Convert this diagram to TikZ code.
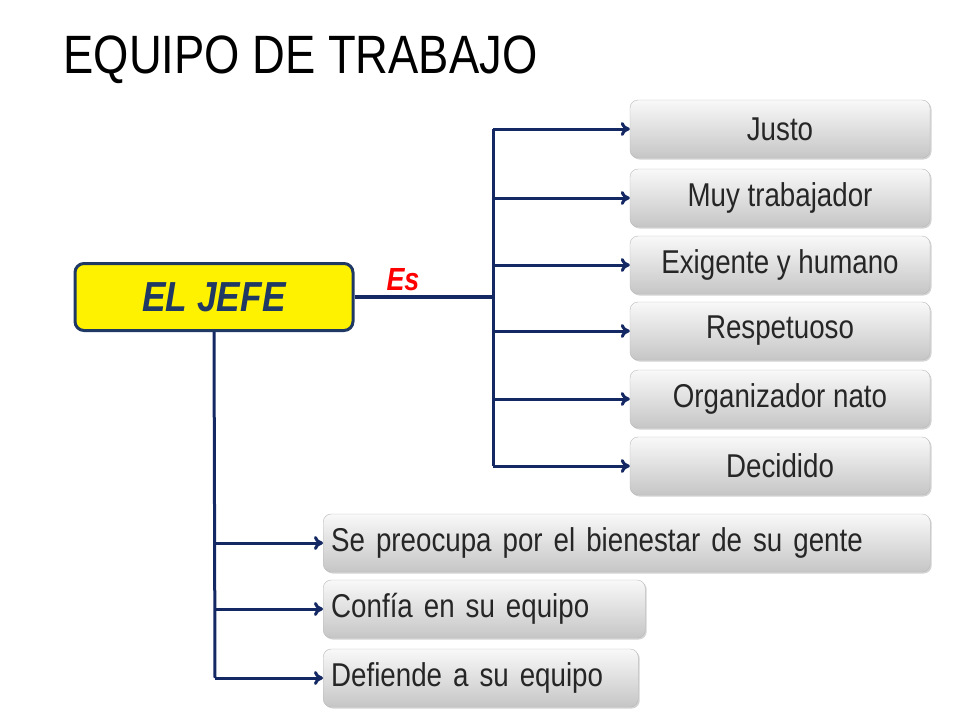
\documentclass[tikz,border=0pt]{standalone}
\usepackage{fontspec}
\setmainfont[FakeStretch=0.84]{Liberation Sans}
\usepackage{tikz}
\usetikzlibrary{arrows.meta}
\usetikzlibrary{shadows}
\definecolor{navy}{RGB}{20,40,100}
\definecolor{jefeborder}{RGB}{31,56,100}
\begin{document}
\begin{tikzpicture}[x=1pt, y=-1pt,
  itembox/.style={rectangle, rounded corners=8pt, draw=gray!55, top color=gray!5, bottom color=gray!45,
    drop shadow={shadow xshift=1.5pt, shadow yshift=-1.5pt, opacity=0.35}, minimum height=58pt,
    font=\fontsize{33}{36}\selectfont, text=black!85, inner xsep=8pt},
  link/.style={draw=navy, line width=3pt, -{To[length=9pt, width=14pt]}}]
\useasboundingbox (0,0) rectangle (960,720);
\node[anchor=base west, font=\fontsize{54}{60}\selectfont] (title) at (60,73) {EQUIPO DE TRABAJO};
\node[rectangle, rounded corners=9pt, draw=jefeborder, line width=3pt, fill=yellow, minimum width=278pt, minimum height=67pt,
  font=\fontsize{42}{46}\selectfont\bfseries\itshape, text=jefeborder] (jefe) at (214,297) {EL JEFE};
\node[font=\fontsize{32}{36}\selectfont\bfseries\itshape, text=red] (es) at (403,280) {Es};
\node[itembox, minimum width=300pt] (n1) at (780,129) {Justo};
\node[itembox, minimum width=300pt] (n2) at (780,198) {Muy trabajador};
\node[itembox, minimum width=300pt] (n3) at (780,265) {Exigente y humano};
\node[itembox, minimum width=300pt] (n4) at (780,331) {Respetuoso};
\node[itembox, minimum width=300pt] (n5) at (780,399) {Organizador nato};
\node[itembox, minimum width=300pt] (n6) at (780,466) {Decidido};
\node[itembox, anchor=west, text width=591pt, align=left] (m1) at (323,543) {Se preocupa por el bienestar de su gente};
\node[itembox, anchor=west, text width=306pt, align=left] (m2) at (323,609) {Confía en su equipo};
\node[itembox, anchor=west, text width=299pt, align=left] (m3) at (323,678) {Defiende a su equipo};
\coordinate (hub) at (493,297);
\draw[navy, line width=3.5pt] (jefe.east) -- (hub);
\draw[navy, line width=3pt] (493,129) -- (493,466);
\foreach \n in {n1,n2,n3,n4,n5,n6}
  \draw[link] (493,0 |- \n.west) -- (\n.west);
\draw[navy, line width=3pt] (jefe.south) -- (215,678);
\foreach \n in {m1,m2,m3}
  \draw[link] (215,0 |- \n.west) -- (\n.west);
\end{tikzpicture}
\end{document}
